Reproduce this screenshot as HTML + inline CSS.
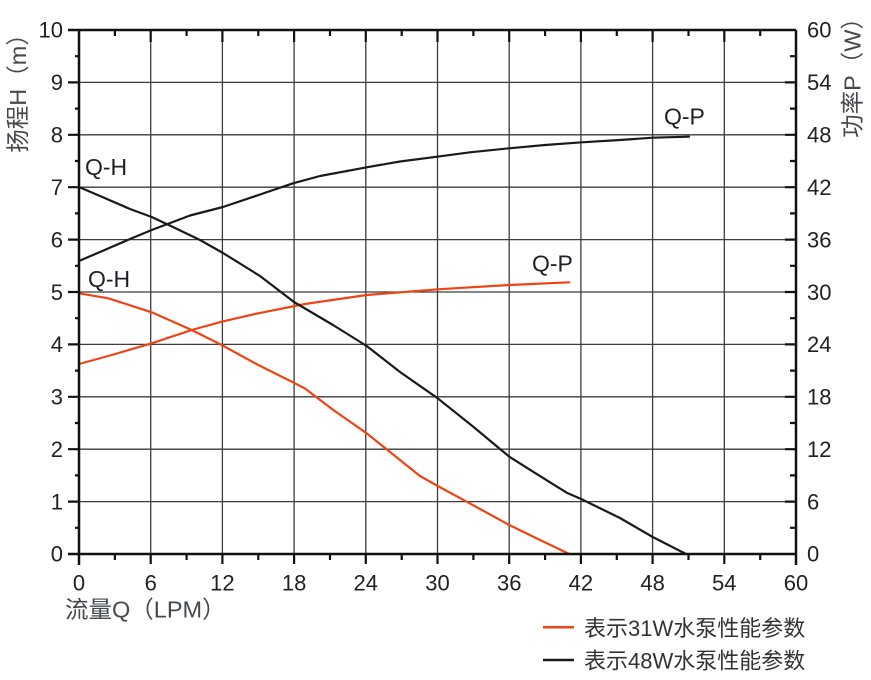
<!DOCTYPE html>
<html>
<head>
<meta charset="utf-8">
<style>
  html, body { margin: 0; padding: 0; background: #ffffff; }
  svg { display: block; }
  .tick { font-family: "Liberation Sans", "Noto Sans CJK SC", sans-serif; font-size: 22px; fill: #222; }
  .title { font-family: "Liberation Sans", "Noto Sans CJK SC", sans-serif; font-size: 23.5px; fill: #45484f; }
  .lbl { font-family: "Liberation Sans", "Noto Sans CJK SC", sans-serif; font-size: 23px; fill: #1e2028; }
  .leg { font-family: "Liberation Sans", "Noto Sans CJK SC", sans-serif; font-size: 22px; fill: #333; }
</style>
</head>
<body>
<svg width="871" height="680" viewBox="0 0 871 680" xmlns="http://www.w3.org/2000/svg">
  <rect x="0" y="0" width="871" height="680" fill="#ffffff"/>

  <g stroke="#3c3c3c" stroke-width="1.3" fill="none">
    <line x1="150.7" y1="30" x2="150.7" y2="554"/>
    <line x1="222.4" y1="30" x2="222.4" y2="554"/>
    <line x1="294.1" y1="30" x2="294.1" y2="554"/>
    <line x1="365.8" y1="30" x2="365.8" y2="554"/>
    <line x1="437.5" y1="30" x2="437.5" y2="554"/>
    <line x1="509.2" y1="30" x2="509.2" y2="554"/>
    <line x1="580.9" y1="30" x2="580.9" y2="554"/>
    <line x1="652.6" y1="30" x2="652.6" y2="554"/>
    <line x1="724.3" y1="30" x2="724.3" y2="554"/>
    <line x1="79" y1="82.4" x2="796" y2="82.4"/>
    <line x1="79" y1="134.8" x2="796" y2="134.8"/>
    <line x1="79" y1="187.2" x2="796" y2="187.2"/>
    <line x1="79" y1="239.6" x2="796" y2="239.6"/>
    <line x1="79" y1="292" x2="796" y2="292"/>
    <line x1="79" y1="344.4" x2="796" y2="344.4"/>
    <line x1="79" y1="396.8" x2="796" y2="396.8"/>
    <line x1="79" y1="449.2" x2="796" y2="449.2"/>
    <line x1="79" y1="501.6" x2="796" y2="501.6"/>
  </g>

  <g fill="none" stroke-width="2.2" stroke-linejoin="round" stroke-linecap="round">
    <polyline stroke="#ee4415" points="79,364 108.3,356 151.7,343.3 191.7,330 221.7,321.7 258.3,313.3 305,304 366.7,295 437.7,289.3 509.3,285 569.3,282.3"/>
    <polyline stroke="#ee4415" points="79,293.3 108.3,298.3 151.7,312.3 191.7,330 221.7,345 258.3,365 295,383.3 305,388.5 333.3,410 366.7,433.3 400,460 420,476 437.7,486 466.7,501.7 509.3,525 533.3,536.7 569.3,554"/>
    <polyline stroke="#1a1a1a" points="79,261 100,252 130,239 151.7,230 190,215.5 223,207 260,194.5 293,183.3 320,176 366.7,167.3 400,161.5 437.3,156.7 470,152.3 509.3,148.3 545,145 581.7,142.3 620,140 652.7,137.7 689,136.7"/>
    <polyline stroke="#1a1a1a" points="79,187 100,196 130,209 151.7,217 173,227 200,240 223,253 260,276 294,302 333,325 366.7,346 400,372 437.7,398.3 473,426.5 500,449 509.3,456.7 533,471.7 566.7,492.7 581.7,499.3 620,518 652.7,537 686,554"/>
  </g>

  <g stroke="#111" stroke-width="2.5" fill="none">
    <line x1="79" y1="30" x2="79" y2="565"/>
    <line x1="796" y1="30" x2="796" y2="565"/>
    <line x1="68" y1="30" x2="796" y2="30"/>
    <line x1="68" y1="554" x2="796" y2="554"/>
  </g>

  <g stroke="#111" stroke-width="2.2" fill="none">
    <path d="M68 82.4H79M68 134.8H79M68 187.2H79M68 239.6H79M68 292H79M68 344.4H79M68 396.8H79M68 449.2H79M68 501.6H79"/>
    <path d="M75 56.2H79M75 108.6H79M75 161H79M75 213.4H79M75 265.8H79M75 318.2H79M75 370.6H79M75 423H79M75 475.4H79M75 527.8H79"/>
    <path d="M785 82.4H796M785 134.8H796M785 187.2H796M785 239.6H796M785 292H796M785 344.4H796M785 396.8H796M785 449.2H796M785 501.6H796"/>
    <path d="M790 56.2H796M790 108.6H796M790 161H796M790 213.4H796M790 265.8H796M790 318.2H796M790 370.6H796M790 423H796M790 475.4H796M790 527.8H796"/>
    <path d="M150.7 554V564M222.4 554V564M294.1 554V564M365.8 554V564M437.5 554V564M509.2 554V564M580.9 554V564M652.6 554V564M724.3 554V564"/>
    <path d="M114.9 554V560M186.6 554V560M258.3 554V560M330 554V560M401.7 554V560M473.4 554V560M545.1 554V560M616.8 554V560M688.5 554V560M760.2 554V560"/>
    <path d="M150.7 30V42M222.4 30V42M294.1 30V42M365.8 30V42M437.5 30V42M509.2 30V42M580.9 30V42M652.6 30V42M724.3 30V42"/>
    <path d="M114.9 30V36M186.6 30V36M258.3 30V36M330 30V36M401.7 30V36M473.4 30V36M545.1 30V36M616.8 30V36M688.5 30V36M760.2 30V36"/>
  </g>

  <g class="tick" text-anchor="end">
    <text x="63" y="37.5">10</text>
    <text x="63" y="90">9</text>
    <text x="63" y="142.5">8</text>
    <text x="63" y="195">7</text>
    <text x="63" y="247.5">6</text>
    <text x="63" y="300">5</text>
    <text x="63" y="352">4</text>
    <text x="63" y="404.5">3</text>
    <text x="63" y="457">2</text>
    <text x="63" y="509.5">1</text>
    <text x="63" y="561.5">0</text>
  </g>

  <g class="tick" text-anchor="start">
    <text x="807" y="37.5">60</text>
    <text x="807" y="90">54</text>
    <text x="807" y="142.5">48</text>
    <text x="807" y="195">42</text>
    <text x="807" y="247.5">36</text>
    <text x="807" y="300">30</text>
    <text x="807" y="352">24</text>
    <text x="807" y="404.5">18</text>
    <text x="807" y="457">12</text>
    <text x="807" y="509.5">6</text>
    <text x="807" y="561.5">0</text>
  </g>

  <g class="tick" text-anchor="middle">
    <text x="79" y="590.5">0</text>
    <text x="150.7" y="590.5">6</text>
    <text x="222.4" y="590.5">12</text>
    <text x="294.1" y="590.5">18</text>
    <text x="365.8" y="590.5">24</text>
    <text x="437.5" y="590.5">30</text>
    <text x="509.2" y="590.5">36</text>
    <text x="580.9" y="590.5">42</text>
    <text x="652.6" y="590.5">48</text>
    <text x="724.3" y="590.5">54</text>
    <text x="796" y="590.5">60</text>
  </g>

  <text class="title" text-anchor="middle" transform="translate(26,87.5) rotate(-90)">扬程H（m）</text>
  <text class="title" text-anchor="middle" transform="translate(860.5,72) rotate(-90)">功率P（W）</text>
  <text class="title" x="65" y="617.5">流量Q（LPM）</text>

  <text class="lbl" x="85" y="175">Q-H</text>
  <text class="lbl" x="88" y="287">Q-H</text>
  <text class="lbl" x="664" y="124.5">Q-P</text>
  <text class="lbl" x="532" y="271.5">Q-P</text>

  <line x1="543" y1="627.3" x2="574" y2="627.3" stroke="#ee4415" stroke-width="2.5"/>
  <line x1="543" y1="660" x2="574" y2="660" stroke="#1a1a1a" stroke-width="2.5"/>
  <text class="leg" x="584" y="636">表示31W水泵性能参数</text>
  <text class="leg" x="584" y="668.5">表示48W水泵性能参数</text>
</svg>
</body>
</html>
